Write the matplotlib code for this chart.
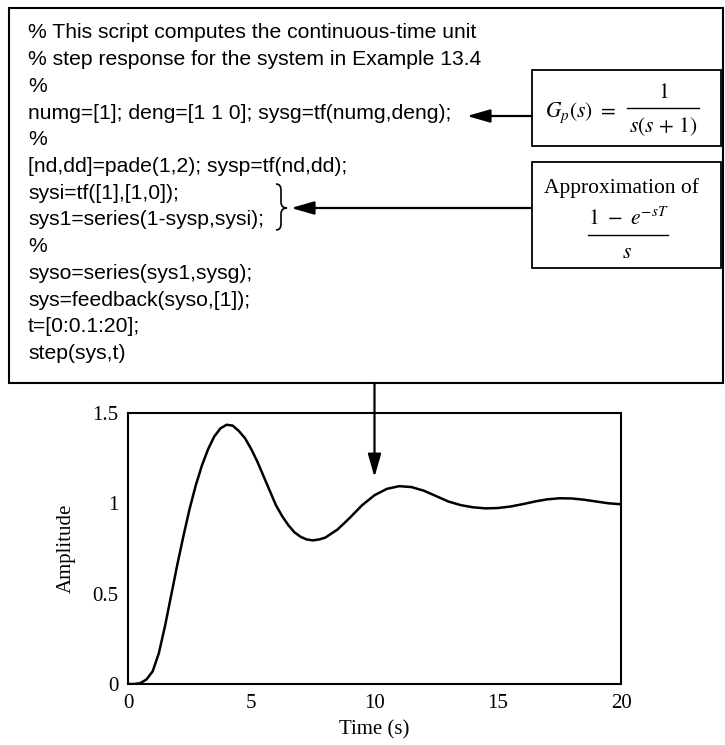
import matplotlib.pyplot as plt
import matplotlib.transforms as mtransforms
from matplotlib.patches import Rectangle, PathPatch
from matplotlib.path import Path

plt.rcParams['mathtext.fontset'] = 'stix'

# MATLAB script shown in the top box
code_lines = [
    "% This script computes the continuous-time unit",
    "% step response for the system in Example 13.4",
    "%",
    "numg=[1]; deng=[1 1 0]; sysg=tf(numg,deng);",
    "%",
    "[nd,dd]=pade(1,2); sysp=tf(nd,dd);",
    "sysi=tf([1],[1,0]);",
    "sys1=series(1-sysp,sysi);",
    "%",
    "syso=series(sys1,sysg);",
    "sys=feedback(syso,[1]);",
    "t=[0:0.1:20];",
    "step(sys,t)",
]

# step response
time = [0.0, 0.25, 0.5, 0.75, 1.0, 1.25, 1.5, 1.75, 2.0, 2.25, 2.5, 2.75,
        3.0, 3.25, 3.5, 3.75, 4.0, 4.25, 4.5, 4.75, 5.0, 5.25, 5.5, 5.75,
        6.0, 6.25, 6.5, 6.75, 7.0, 7.25, 7.5, 7.75, 8.0, 8.5, 9.0, 9.5,
        10.0, 10.5, 11.0, 11.5, 12.0, 12.5, 13.0, 13.5, 14.0, 14.5, 15.0,
        15.5, 16.0, 16.5, 17.0, 17.5, 18.0, 18.5, 19.0, 19.5, 20.0]
amplitude = [0.0, 0.0, 0.005, 0.025, 0.07, 0.17, 0.32, 0.49, 0.66, 0.82,
             0.97, 1.10, 1.21, 1.30, 1.37, 1.415, 1.435, 1.43, 1.40, 1.36,
             1.30, 1.23, 1.15, 1.07, 0.99, 0.93, 0.88, 0.84, 0.815, 0.80,
             0.795, 0.80, 0.81, 0.855, 0.92, 0.99, 1.045, 1.08, 1.095, 1.09,
             1.07, 1.04, 1.01, 0.99, 0.978, 0.972, 0.974, 0.982, 0.995, 1.01,
             1.022, 1.028, 1.027, 1.02, 1.01, 1.0, 0.995]

xticks = [0, 5, 10, 15, 20]
yticks = [0, 0.5, 1, 1.5]
ytick_labels = ['0', '0.5', '1', '1.5']

W, H = 725, 745
fig = plt.figure(figsize=(W / 100, H / 100), dpi=100)

# overlay in pixel coordinates for the annotation boxes
ov = fig.add_axes([0, 0, 1, 1])
ov.set_xlim(0, W)
ov.set_ylim(H, 0)
ov.axis('off')

sans = 'Liberation Sans'
serif = 'Liberation Serif'

ov.add_patch(Rectangle((9, 8), 714, 375, fill=False, lw=1.5, ec='black'))
for i, line in enumerate(code_lines):
    ov.text(28, 33 + 26.7 * i, line, fontsize=15.2, family=sans, va='center')

# transfer function box
ov.add_patch(Rectangle((532, 70), 189, 76, fill=False, lw=1.3, ec='black'))
ov.text(580, 113, r'$G_p(s)\ =$', fontsize=15.5, ha='center', va='center')
ov.text(663, 92, r'$1$', fontsize=15.5, ha='center', va='center')
ov.plot([627, 699], [108, 108], color='black', lw=1)
ov.text(663, 127, r'$s(s\,+\,1)$', fontsize=15.5, ha='center', va='center')

# approximation box
ov.add_patch(Rectangle((532, 162), 189, 106, fill=False, lw=1.3, ec='black'))
ov.text(622, 188, 'Approximation of', fontsize=15.5, family=serif,
        ha='center', va='center')
ov.text(628, 218, r'$1\ -\ e^{-sT}$', fontsize=15.5, ha='center', va='center')
ov.plot([588, 668], [235, 235], color='black', lw=1)
ov.text(627, 252, r'$s$', fontsize=15.5, ha='center', va='center')

arrow = dict(arrowstyle='-|>,head_length=0.7,head_width=0.2', mutation_scale=20,
             lw=1.6, color='black', shrinkA=0, shrinkB=0)
ov.annotate('', xy=(467, 116), xytext=(532, 116), arrowprops=arrow)
ov.annotate('', xy=(291, 208), xytext=(532, 208), arrowprops=arrow)

# brace joining the sysi and sys1 lines
verts = [(276, 184), (281, 184), (281, 190), (281, 202), (281, 208), (287, 208),
         (281, 208), (281, 214), (281, 224), (281, 230), (276, 230)]
codes = [Path.MOVETO, Path.CURVE3, Path.CURVE3, Path.LINETO, Path.CURVE3,
         Path.CURVE3, Path.CURVE3, Path.CURVE3, Path.LINETO, Path.CURVE3,
         Path.CURVE3]
ov.add_patch(PathPatch(Path(verts, codes), fill=False, lw=1.2, ec='black'))

# step response plot
ax = fig.add_axes([128 / W, 1 - 684 / H, 493 / W, 271 / H])
ax.set_facecolor('none')
ax.plot(time, amplitude, color='black', lw=1.8)
ax.set_xlim(0, 20)
ax.set_ylim(0, 1.5)
ax.set_xticks(xticks)
ax.set_xticklabels([str(v) for v in xticks])
ax.set_yticks(yticks)
ax.set_yticklabels(ytick_labels)
ax.tick_params(length=0, labelsize=15, pad=7)
for lab in ax.get_xticklabels() + ax.get_yticklabels():
    lab.set_fontfamily(serif)
for sp in ax.spines.values():
    sp.set_linewidth(1.5)
ax.set_xlabel('Time (s)', fontsize=15, family=serif)
ax.set_ylabel('Amplitude', fontsize=15, family=serif)
ax.xaxis.set_label_coords(0.5, -0.17)
ax.yaxis.set_label_coords(-0.126, 0.5)
ax.xaxis.label.set_va('center')
ax.yaxis.label.set_va('center')

blend = mtransforms.blended_transform_factory(ax.transData, ov.transData)
ax.annotate('', xy=(10, 1.145), xycoords='data', xytext=(10, 383),
            textcoords=blend, arrowprops=arrow, annotation_clip=False)

fig.savefig('out.png', dpi=100)
